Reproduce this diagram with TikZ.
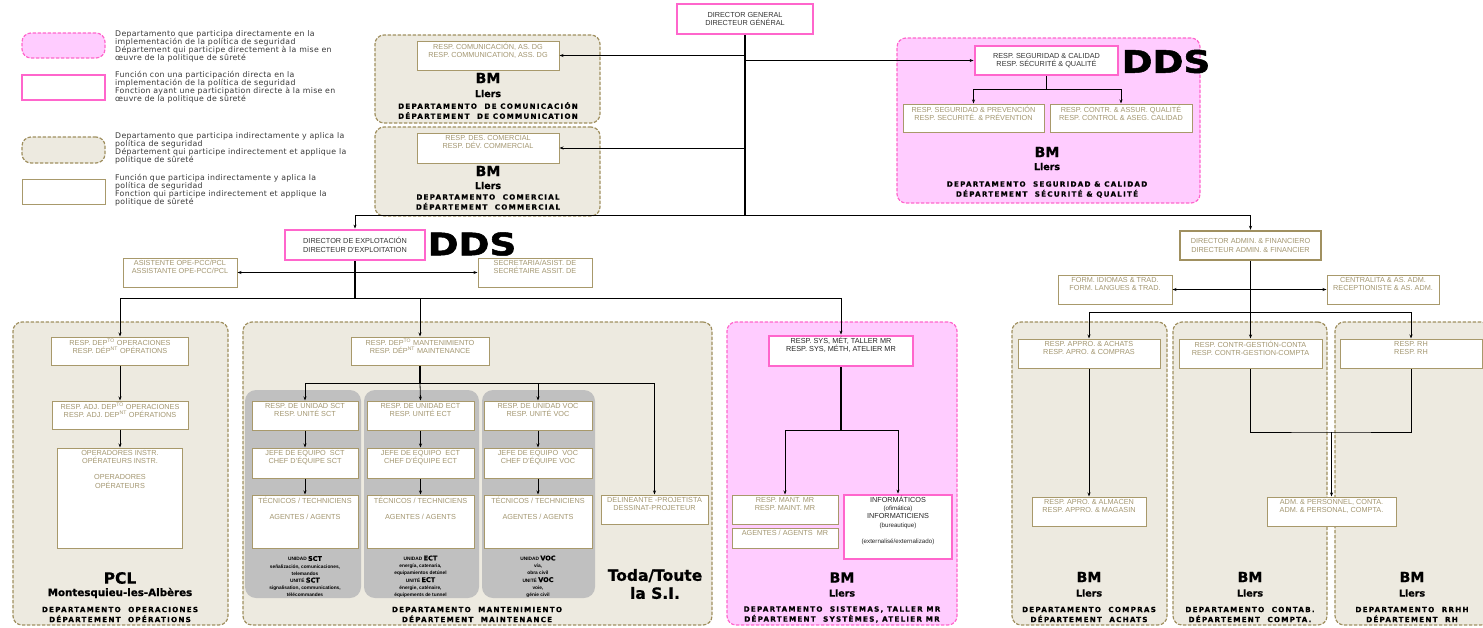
\documentclass[tikz,border=0pt]{standalone}
\usepackage{fontspec}
\setmainfont{Liberation Sans}
\newfontfamily\legfont[LetterSpace=4]{DejaVu Sans}
\newfontfamily\hvyfont[FakeBold=0.8]{DejaVu Sans}
\newfontfamily\ddsfont[FakeBold=1.6]{DejaVu Sans}
\newfontfamily\depfont[LetterSpace=17,FakeBold=0.6]{DejaVu Sans}
\usetikzlibrary{arrows.meta}

\definecolor{deptbg}{HTML}{EDEAE0}
\definecolor{deptbd}{HTML}{A09060}
\definecolor{pinkbg}{HTML}{FFCCFF}
\definecolor{pinkbd}{HTML}{FF66CC}
\definecolor{fbd}{HTML}{A8996B}
\definecolor{ftx}{HTML}{A39670}
\definecolor{panelgray}{HTML}{C0C0C0}

\newcommand\boxfont{\fontsize{7.3}{8.3}\selectfont}
\newcommand\unitcode[1]{{\hvyfont\bfseries\fontsize{6.5}{6.5}\selectfont #1}}
\newcommand\smallpar[1]{{\fontsize{6.2}{8.3}\selectfont #1}}

\tikzset{
  >={Stealth[length=4pt,width=3pt]},
  wh/.style 2 args={minimum width=#1, minimum height=#2},
  dept/.style={draw=deptbd, fill=deptbg, line width=1.2pt, dash pattern=on 3.5pt off 1.5pt, rounded corners=9pt, inner sep=0pt},
  pinkdept/.style={dept, draw=pinkbd, fill=pinkbg},
  panel/.style={fill=panelgray, rounded corners=11pt, inner sep=0pt},
  fbox/.style={draw=fbd, line width=1pt, fill=white, inner sep=0pt},
  pbox/.style={draw=pinkbd, line width=2.8pt, fill=white, inner sep=0pt, align=center, text=black!80, font=\boxfont},
  abox/.style={draw=deptbd, line width=2.4pt, fill=white, inner sep=0pt, align=center, text=ftx, font=\boxfont},
  ftxt/.style={text=ftx, font=\boxfont, align=center, inner sep=2.2pt, anchor=north},
  ft/.style={label={[ftxt]north:{#1}}},
  pt/.style={label={[ftxt, text=black!85]north:{#1}}},
  legtxt/.style={font=\legfont\fontsize{7.8}{8}\selectfont, text=black!78, align=left, anchor=north west, inner sep=0pt},
  bmtxt/.style={font=\hvyfont\bfseries\fontsize{14}{14}\selectfont, inner sep=0pt},
  lltxt/.style={font=\hvyfont\bfseries\fontsize{9.5}{10}\selectfont, inner sep=0pt},
  deptxt/.style={font=\depfont\bfseries\fontsize{7.2}{10}\selectfont, align=center, inner sep=0pt},
  unittxt/.style={font=\bfseries\fontsize{4.8}{7.2}\selectfont, align=center, inner sep=0pt},
  ddstxt/.style={font=\ddsfont\bfseries\fontsize{31}{31}\selectfont, inner sep=0pt},
  todatxt/.style={font=\hvyfont\bfseries\fontsize{15.5}{18}\selectfont, align=center, inner sep=0pt},
  link/.style={->, line width=0.8pt},
  trunk/.style={line width=1.5pt},
}

\begin{document}
\begin{tikzpicture}[x=1pt, y=-1pt]
			%%%%% START %%%%%
			\useasboundingbox (0,0) rectangle (1483,627);
			
			% legend
			\node[pinkdept, wh={83pt}{25pt}] (lgA) at (63.5,45.5) {};
			\node[pbox, wh={83pt}{25pt}] (lgB) at (63.5,87.5) {};
			\node[dept, wh={83pt}{26pt}] (lgC) at (63.5,150) {};
			\node[fbox, wh={83pt}{25pt}] (lgD) at (63.5,191.5) {};
			\node[legtxt] (lgtA) at (115,30) {Departamento que participa directamente en la\\implementación de la política de seguridad\\Département qui participe directement à la mise en\\œuvre de la politique de sûreté};
			\node[legtxt] (lgtB) at (115,71) {Función con una participación directa en la\\implementación de la política de seguridad\\Fonction ayant une participation directe à la mise en\\œuvre de la politique de sûreté};
			\node[legtxt] (lgtC) at (115,132) {Departamento que participa indirectamente y aplica la\\política de seguridad\\Département qui participe indirectement et applique la\\politique de sûreté};
			\node[legtxt] (lgtD) at (115,174) {Función que participa indirectamente y aplica la\\política de seguridad\\Fonction qui participe indirectement et applique la\\politique de sûreté};
			
			% direction
			\node[pbox, wh={136pt}{30pt}] (dg) at (745,19) {DIRECTOR GENERAL\\DIRECTEUR GÉNÉRAL};
			\coordinate (dgbus) at (745,215);
			
			\node[dept, wh={225pt}{88pt}] (comdep) at (487.5,79) {};
			\node[fbox, wh={142pt}{29pt}, ft={RESP. COMUNICACIÓN, AS. DG\\RESP. COMMUNICATION, ASS. DG}] (com) at (488,55.5) {};
			\node[bmtxt] (combm) at (488,78) {BM};
			\node[lltxt] (comll) at (488,93.5) {Llers};
			\node[deptxt] (comdt) at (488,110.5) {DEPARTAMENTO~ DE COMUNICACIÓN\\DÉPARTEMENT~ DE COMMUNICATION};
			
			\node[dept, wh={225pt}{89pt}] (comerdep) at (487.5,171.5) {};
			\node[fbox, wh={142pt}{30pt}, ft={RESP. DES. COMERCIAL\\RESP. DÉV. COMMERCIAL}] (comer) at (488,148) {};
			\node[bmtxt] (comerbm) at (488,171) {BM};
			\node[lltxt] (comerll) at (488,185.5) {Llers};
			\node[deptxt] (comerdt) at (488,202) {DEPARTAMENTO~ COMERCIAL\\DÉPARTEMENT~ COMMERCIAL};
			
			\node[pinkdept, wh={303pt}{165pt}] (segdep) at (1048.5,120.5) {};
			\node[pbox, wh={143pt}{29pt}] (seg) at (1046.5,60.5) {RESP. SEGURIDAD \& CALIDAD\\RESP. SÉCURITÉ \& QUALITÉ};
			\node[ddstxt] (ddsA) at (1166,61.5) {\scalebox{1.2}[1]{DDS}};
			\node[fbox, wh={141pt}{28pt}, ft={RESP. SEGURIDAD \& PREVENCIÓN\\RESP. SECURITÉ. \& PRÉVENTION}] (prev) at (973.5,118) {};
			\node[fbox, wh={142pt}{28pt}, ft={RESP. CONTR. \& ASSUR. QUALITÉ\\RESP. CONTROL \& ASEG. CALIDAD}] (ctrl) at (1121,118) {};
			\coordinate (sgbus) at (1046.5,89);
			\node[bmtxt] (segbm) at (1047,152) {BM};
			\node[lltxt] (segll) at (1047,166.5) {Llers};
			\node[deptxt] (segdt) at (1047,189.5) {DEPARTAMENTO~ SEGURIDAD \& CALIDAD\\DÉPARTEMENT~ SÉCURITÉ \& QUALITÉ};
			
			% explotacion
			\node[pbox, wh={140pt}{30pt}] (expl) at (355,245) {DIRECTOR DE EXPLOTACIÓN\\DIRECTEUR D'EXPLOITATION};
			\node[ddstxt] (ddsB) at (472,244) {\scalebox{1.2}[1]{DDS}};
			\node[fbox, wh={114pt}{29pt}, ft={ASISTENTE OPE-PCC/PCL\\ASSISTANTE OPE-PCC/PCL}] (asis) at (180,272.5) {};
			\node[fbox, wh={114pt}{29pt}, ft={SECRETARIA/ASIST. DE\\SECRÉTAIRE ASSIT. DE}] (secr) at (535,273) {};
			\coordinate (ebus) at (355,298);
			
			% admin
			\node[abox, wh={141pt}{29pt}] (adm) at (1250.5,245.5) {DIRECTOR ADMIN. \& FINANCIERO\\DIRECTEUR ADMIN. \& FINANCIER};
			\node[fbox, wh={114pt}{29pt}, ft={FORM. IDIOMAS \& TRAD.\\FORM. LANGUES \& TRAD.}] (form) at (1115,289.5) {};
			\node[fbox, wh={112pt}{29pt}, ft={CENTRALITA \& AS. ADM.\\RECEPTIONISTE \& AS. ADM.}] (cent) at (1383,289.5) {};
			\coordinate (abus) at (1250.5,312);
			
			% PCL
			\node[dept, wh={215pt}{303pt}] (pcldep) at (120.5,473.5) {};
			\node[fbox, wh={137pt}{28pt}, ft={RESP. DEP\textsuperscript{TO} OPERACIONES\\RESP. DÉP\textsuperscript{NT} OPÉRATIONS}] (rdo) at (120,351) {};
			\node[fbox, wh={136pt}{28pt}, ft={RESP. ADJ. DEP\textsuperscript{TO} OPERACIONES\\RESP. ADJ. DEP\textsuperscript{NT} OPÉRATIONS}] (radj) at (120,415) {};
			\node[fbox, wh={125pt}{100pt}, ft={OPERADORES INSTR.\\OPÉRATEURS INSTR.\\[8.3pt]OPERADORES\\OPÉRATEURS}] (oper) at (120,498) {};
			\node[bmtxt, font=\hvyfont\bfseries\fontsize{15.5}{15.5}\selectfont] (pcl) at (120,578) {PCL};
			\node[lltxt, font=\hvyfont\bfseries\fontsize{10.3}{10.3}\selectfont] (mont) at (120,593) {Montesquieu-les-Albères};
			\node[deptxt] (pcldt) at (120,614.5) {DEPARTAMENTO~ OPERACIONES\\DÉPARTEMENT~ OPÉRATIONS};
			
			% mantenimiento
			\node[dept, wh={469pt}{303pt}] (mantdep) at (477.5,473.5) {};
			\node[fbox, wh={138pt}{28pt}, ft={RESP. DEP\textsuperscript{TO} MANTENIMIENTO\\RESP. DÉP\textsuperscript{NT} MAINTENANCE}] (rdm) at (420,351) {};
			\coordinate (mbus) at (420,383);
			\node[panel, wh={116pt}{208pt}] (sctp) at (303,494) {};
			\node[panel, wh={115pt}{208pt}] (ectp) at (421.5,494) {};
			\node[panel, wh={113pt}{208pt}] (vocp) at (538.5,494) {};
			
			\node[fbox, wh={106pt}{29pt}, ft={RESP. DE UNIDAD SCT\\RESP. UNITÉ SCT}] (sctA) at (305,415.5) {};
			\node[fbox, wh={106pt}{30pt}, ft={JEFE DE EQUIPO~ SCT\\CHEF D'ÉQUIPE SCT}] (sctB) at (305,463) {};
			\node[fbox, wh={106pt}{53pt}, ft={TÉCNICOS / TECHNICIENS\\[8.3pt]AGENTES / AGENTS}] (sctC) at (305,521.5) {};
			\node[unittxt] (sctu) at (305,576.5) {UNIDAD \unitcode{SCT}\\señalización, comunicaciones,\\telemandos\\UNITÉ \unitcode{SCT}\\signalisation, communications,\\télécommandes};
			
			\node[fbox, wh={107pt}{29pt}, ft={RESP. DE UNIDAD ECT\\RESP. UNITÉ ECT}] (ectA) at (420.5,415.5) {};
			\node[fbox, wh={107pt}{30pt}, ft={JEFE DE EQUIPO~ ECT\\CHEF D'ÉQUIPE ECT}] (ectB) at (420.5,463) {};
			\node[fbox, wh={107pt}{53pt}, ft={TÉCNICOS / TECHNICIENS\\[8.3pt]AGENTES / AGENTS}] (ectC) at (420.5,521.5) {};
			\node[unittxt] (ectu) at (420.5,576.5) {UNIDAD \unitcode{ECT}\\energía, catenaria,\\equipamientos detúnel\\UNITÉ \unitcode{ECT}\\énergie, caténaire,\\équipements de tunnel};
			
			\node[fbox, wh={108pt}{29pt}, ft={RESP. DE UNIDAD VOC\\RESP. UNITÉ VOC}] (vocA) at (538,415.5) {};
			\node[fbox, wh={108pt}{30pt}, ft={JEFE DE EQUIPO~ VOC\\CHEF D'ÉQUIPE VOC}] (vocB) at (538,463) {};
			\node[fbox, wh={108pt}{53pt}, ft={TÉCNICOS / TECHNICIENS\\[8.3pt]AGENTES / AGENTS}] (vocC) at (538,521.5) {};
			\node[unittxt] (vocu) at (538,576.5) {UNIDAD \unitcode{VOC}\\vía,\\obra civil\\UNITÉ \unitcode{VOC}\\voie,\\génie civil};
			
			\node[fbox, wh={107pt}{29pt}, ft={DELINEANTE -PROJETISTA\\DESSINAT-PROJETEUR}] (deli) at (654.5,509.5) {};
			\node[todatxt] (toda) at (655,584) {Toda/Toute\\la S.I.};
			\node[deptxt] (mantdt) at (477,614.5) {DEPARTAMENTO~ MANTENIMIENTO\\DÉPARTEMENT~ MAINTENANCE};
			
			% sistemas
			\node[pinkdept, wh={230pt}{303pt}] (sisdep) at (842,473.5) {};
			\node[pbox, wh={144pt}{30pt}, pt={RESP. SYS, MÉT, TALLER MR\\RESP. SYS, MÉTH, ATELIER MR}] (sys) at (841,351) {};
			\coordinate (sbus) at (841,430);
			\node[fbox, wh={106pt}{29pt}, ft={RESP. MANT. MR\\RESP. MAINT. MR}] (mantmr) at (785,509.5) {};
			\node[fbox, wh={106pt}{20pt}, ft={AGENTES / AGENTS~ MR}] (agmr) at (785,538) {};
			\node[pbox, wh={108pt}{64pt}, pt={INFORMÁTICOS\\\smallpar{(ofimática)}\\INFORMATICIENS\\\smallpar{(bureautique)}\\[8.3pt]\smallpar{(externalisé/externalizado)}}] (info) at (898,527) {};
			\node[bmtxt] (sisbm) at (842,577.5) {BM};
			\node[lltxt] (sisll) at (842,593) {Llers};
			\node[deptxt] (sisdt) at (842,614.5) {DEPARTAMENTO~ SISTEMAS, TALLER MR\\DÉPARTEMENT~ SYSTÈMES, ATELIER MR};
			
			% compras, contab, rrhh
			\node[dept, wh={155pt}{303pt}] (compdep) at (1089.5,473.5) {};
			\node[dept, wh={154pt}{303pt}] (contdep) at (1250,473.5) {};
			\node[dept, wh={155pt}{303pt}] (rhdep) at (1412.5,473.5) {};
			\node[fbox, wh={142pt}{29pt}, ft={RESP. APPRO. \& ACHATS\\RESP. APRO. \& COMPRAS}] (rapp) at (1089,353.5) {};
			\node[fbox, wh={114pt}{29pt}, ft={RESP. APRO. \& ALMACEN\\RESP. APPRO. \& MAGASIN}] (ralm) at (1089,511.5) {};
			\node[fbox, wh={143pt}{29pt}, ft={RESP. CONTR-GESTIÓN-CONTA\\RESP. CONTR-GESTION-COMPTA}] (rcon) at (1250.5,353.5) {};
			\node[fbox, wh={142pt}{29pt}, ft={RESP. RH\\RESP. RH}] (rrh) at (1411,353.5) {};
			\node[fbox, wh={129pt}{29pt}, ft={ADM. \& PERSONNEL, CONTA.\\ADM. \& PERSONAL, COMPTA.}] (radm) at (1331.5,511.5) {};
			\coordinate (cbus) at (1331.5,432);
			\node[bmtxt] (compbm) at (1089,577) {BM};
			\node[lltxt] (compll) at (1089,593) {Llers};
			\node[deptxt] (compdt) at (1089,614.5) {DEPARTAMENTO~ COMPRAS\\DÉPARTEMENT~ ACHATS};
			\node[bmtxt] (contbm) at (1250,577) {BM};
			\node[lltxt] (contll) at (1250,593) {Llers};
			\node[deptxt] (contdt) at (1250,614.5) {DEPARTAMENTO~ CONTAB.\\DÉPARTEMENT~ COMPTA.};
			\node[bmtxt] (rhbm) at (1412,577) {BM};
			\node[lltxt] (rhll) at (1412,593) {Llers};
			\node[deptxt] (rhdt) at (1412,614.5) {DEPARTAMENTO~ RRHH\\DÉPARTEMENT~ RH};
			
			% connectors
			\draw[trunk] (dg.south) -- (dgbus);
			\draw[link] (dgbus) -| (expl.north);
			\draw[link] (dgbus) -| (adm.north);
			\draw[link] (dg.south |- com.east) -- (com.east);
			\draw[link] (dg.south |- comer.east) -- (comer.east);
			\draw[link] (dg.south |- seg.west) -- (seg.west);
			\draw[line width=0.8pt] (seg.south) -- (sgbus);
			\draw[link] (sgbus) -| (prev.north);
			\draw[link] (sgbus) -| (ctrl.north);
			
			\draw[trunk] (expl.south) -- (ebus);
			\draw[link, <->] (asis.east) -- (asis.east -| secr.west);
			\draw[link] (ebus) -| (rdo.north);
			\draw[link] (ebus) -| (rdm.north);
			\draw[link] (ebus) -| (sys.north);
			
			\draw[trunk] (adm.south) -- (abus);
			\draw[link, <->] (form.east) -- (cent.west);
			\draw[link] (abus) -| (rapp.north);
			\draw[link] (abus) -- (rcon.north);
			\draw[link] (abus) -| (rrh.north);
			
			\draw[link] (rdo) -- (radj);
			\draw[link] (radj) -- (oper);
			
			\draw[trunk] (rdm.south) -- (mbus);
			\draw[link] (mbus) -| (sctA.north);
			\draw[link] (mbus) -- (ectA.north);
			\draw[link] (mbus) -| (vocA.north);
			\draw[link] (mbus) -| (deli.north);
			\draw[link] (sctA) -- (sctB);
			\draw[link] (sctB) -- (sctC);
			\draw[link] (ectA) -- (ectB);
			\draw[link] (ectB) -- (ectC);
			\draw[link] (vocA) -- (vocB);
			\draw[link] (vocB) -- (vocC);
			
			\draw[trunk] (sys.south) -- (sbus);
			\draw[link] (sbus) -| (mantmr.north);
			\draw[link] (sbus) -| (info.north);
			
			\draw[link] (rapp) -- (ralm);
			\draw[line width=0.8pt] (rcon.south) |- (cbus) -| (rrh.south);
			\draw[link, line width=1.2pt] (cbus) -- (radm.north);
			%%%%% END %%%%%
\end{tikzpicture}
\end{document}
